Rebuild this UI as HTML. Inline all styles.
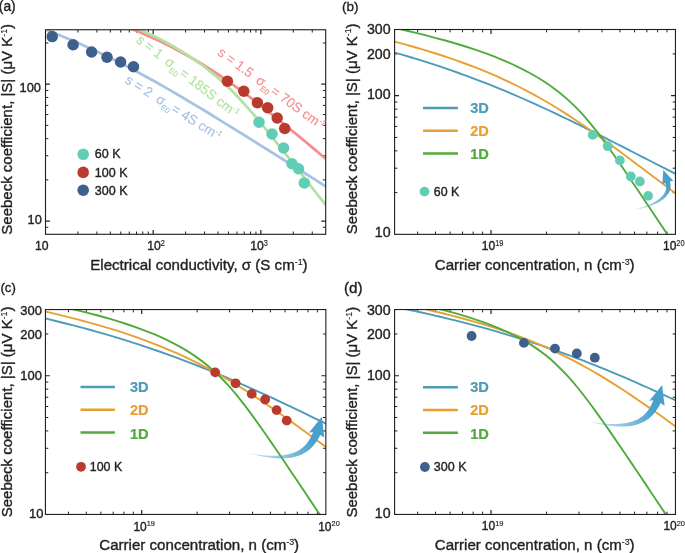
<!DOCTYPE html>
<html lang="en">
<head>
<meta charset="utf-8">
<title>Seebeck coefficient figure</title>
<style>
html,body{margin:0;padding:0;background:#fff;}
body{width:685px;height:553px;overflow:hidden;font-family:"Liberation Sans", Arial, Helvetica, sans-serif;}
svg{display:block;}
text{white-space:pre;}
</style>
</head>
<body>
<svg width="685" height="553" viewBox="0 0 685 553" font-family='"Liberation Sans", Arial, Helvetica, sans-serif'>
<rect width="685" height="553" fill="#fff"/>
<defs>
<clipPath id="clipa"><rect x="45.5" y="29.75" width="280.2" height="204.55"/></clipPath>
<clipPath id="clipb"><rect x="394.6" y="29.5" width="280.85" height="204.85"/></clipPath>
<clipPath id="clipc"><rect x="45.45" y="309.55" width="280.4" height="204.9"/></clipPath>
<clipPath id="clipd"><rect x="394.6" y="309.55" width="280.85" height="204.9"/></clipPath>
</defs>
<g stroke="#231f20" fill="none">
<path stroke-width="1.2" d="M153.18 234.3v-4.4M153.18 29.75v4.4M260.87 234.3v-4.4M260.87 29.75v4.4M45.5 221.04h4.4M325.7 221.04h-4.4M45.5 84.2h4.4M325.7 84.2h-4.4"/>
<path stroke-width="1.0" d="M77.92 234.3v-2.8M77.92 29.75v2.8M96.88 234.3v-2.8M96.88 29.75v2.8M110.33 234.3v-2.8M110.33 29.75v2.8M120.77 234.3v-2.8M120.77 29.75v2.8M129.29 234.3v-2.8M129.29 29.75v2.8M136.5 234.3v-2.8M136.5 29.75v2.8M142.75 234.3v-2.8M142.75 29.75v2.8M148.26 234.3v-2.8M148.26 29.75v2.8M185.6 234.3v-2.8M185.6 29.75v2.8M204.56 234.3v-2.8M204.56 29.75v2.8M218.02 234.3v-2.8M218.02 29.75v2.8M228.45 234.3v-2.8M228.45 29.75v2.8M236.98 234.3v-2.8M236.98 29.75v2.8M244.19 234.3v-2.8M244.19 29.75v2.8M250.43 234.3v-2.8M250.43 29.75v2.8M255.94 234.3v-2.8M255.94 29.75v2.8M293.28 234.3v-2.8M293.28 29.75v2.8M312.25 234.3v-2.8M312.25 29.75v2.8M45.5 227.3h2.8M325.7 227.3h-2.8M45.5 179.85h2.8M325.7 179.85h-2.8M45.5 155.75h2.8M325.7 155.75h-2.8M45.5 138.66h2.8M325.7 138.66h-2.8M45.5 125.39h2.8M325.7 125.39h-2.8M45.5 114.56h2.8M325.7 114.56h-2.8M45.5 105.4h2.8M325.7 105.4h-2.8M45.5 97.46h2.8M325.7 97.46h-2.8M45.5 90.46h2.8M325.7 90.46h-2.8M45.5 43.01h2.8M325.7 43.01h-2.8"/>
</g>
<g clip-path="url(#clipa)" fill="none">
<path d="M105.97 19.08C109.45 20.31 112.92 21.57 116.38 22.87C119.84 24.16 123.29 25.48 126.72 26.84C130.15 28.20 133.58 29.59 136.98 31.02C140.39 32.45 143.78 33.91 147.16 35.41C150.53 36.91 153.89 38.45 157.23 40.02C160.57 41.59 163.90 43.21 167.20 44.86C170.50 46.51 173.79 48.20 177.05 49.93C180.32 51.65 183.56 53.42 186.78 55.23C190.01 57.03 193.21 58.88 196.38 60.76C199.56 62.64 202.72 64.56 205.85 66.52C208.98 68.47 212.10 70.46 215.19 72.49C218.27 74.51 221.34 76.57 224.39 78.66C227.44 80.74 230.46 82.86 233.47 85.01C236.47 87.15 239.46 89.32 242.43 91.52C245.40 93.72 248.35 95.93 251.29 98.17C254.23 100.41 257.15 102.67 260.07 104.94C262.98 107.21 265.88 109.50 268.76 111.80C271.65 114.11 274.53 116.42 277.40 118.74C280.28 121.06 283.14 123.40 286.00 125.74C288.86 128.08 291.71 130.42 294.56 132.77C297.40 135.12 300.25 137.48 303.09 139.84C305.93 142.20 308.77 144.57 311.60 146.93C314.44 149.30 317.27 151.67 320.10 154.04C322.94 156.41 325.77 158.79 328.59 161.16C331.42 163.54 334.25 165.91 337.07 168.29" stroke="#f58e90" stroke-width="2.75"/>
<path d="M111.23 18.38C115.10 19.78 118.96 21.22 122.80 22.71C126.64 24.20 130.45 25.74 134.25 27.33C138.05 28.92 141.82 30.56 145.57 32.27C149.32 33.97 153.04 35.73 156.73 37.56C160.42 39.38 164.08 41.27 167.70 43.23C171.32 45.19 174.90 47.22 178.44 49.32C181.98 51.43 185.47 53.61 188.91 55.86C192.36 58.12 195.75 60.45 199.09 62.87C202.42 65.28 205.70 67.77 208.92 70.34C212.14 72.90 215.29 75.54 218.39 78.26C221.49 80.97 224.52 83.76 227.49 86.60C230.47 89.45 233.38 92.36 236.24 95.32C239.10 98.28 241.91 101.29 244.67 104.34C247.43 107.40 250.15 110.49 252.83 113.61C255.51 116.73 258.16 119.89 260.79 123.06C263.41 126.23 266.01 129.43 268.59 132.63C271.18 135.83 273.75 139.05 276.31 142.27C278.87 145.49 281.43 148.72 283.98 151.95C286.53 155.18 289.08 158.41 291.63 161.65C294.17 164.88 296.72 168.12 299.27 171.35C301.81 174.59 304.36 177.82 306.90 181.06C309.45 184.29 312.00 187.53 314.54 190.76C317.09 194.00 319.63 197.23 322.18 200.47C324.73 203.70 327.27 206.94 329.82 210.17C332.36 213.41 334.91 216.64 337.45 219.88" stroke="#b4e1a2" stroke-width="2.75"/>
<path d="M33.71 25.10C38.07 26.70 42.41 28.33 46.74 30.01C51.07 31.68 55.39 33.39 59.69 35.15C63.99 36.90 68.27 38.70 72.53 40.53C76.80 42.36 81.05 44.24 85.28 46.15C89.51 48.06 93.72 50.01 97.92 51.99C102.11 53.98 106.29 56.00 110.45 58.06C114.61 60.12 118.76 62.21 122.88 64.34C127.01 66.46 131.12 68.62 135.22 70.80C139.31 72.99 143.39 75.20 147.46 77.44C151.53 79.68 155.58 81.95 159.62 84.24C163.66 86.52 167.68 88.83 171.70 91.16C175.72 93.49 179.72 95.84 183.72 98.20C187.71 100.57 191.70 102.95 195.68 105.34C199.66 107.73 203.63 110.13 207.60 112.54C211.56 114.96 215.52 117.38 219.48 119.81C223.43 122.24 227.38 124.68 231.33 127.12C235.28 129.57 239.22 132.02 243.16 134.47C247.10 136.93 251.04 139.39 254.97 141.85C258.91 144.31 262.84 146.78 266.77 149.25C270.70 151.72 274.63 154.19 278.56 156.66C282.49 159.13 286.42 161.61 290.34 164.09C294.27 166.56 298.20 169.04 302.12 171.52C306.05 174.00 309.97 176.48 313.89 178.96C317.82 181.45 321.74 183.93 325.66 186.41C329.58 188.90 333.50 191.38 337.42 193.87" stroke="#a7c3e3" stroke-width="2.75"/>
</g>
<circle cx="52.2" cy="36.6" r="5.75" fill="#3f5f8c"/>
<circle cx="73.1" cy="44.7" r="5.75" fill="#3f5f8c"/>
<circle cx="91.6" cy="52" r="5.75" fill="#3f5f8c"/>
<circle cx="107" cy="57.3" r="5.75" fill="#3f5f8c"/>
<circle cx="120.6" cy="62" r="5.75" fill="#3f5f8c"/>
<circle cx="133.5" cy="66.7" r="5.75" fill="#3f5f8c"/>
<circle cx="227.4" cy="81.2" r="5.75" fill="#b83b2e"/>
<circle cx="243.8" cy="91.3" r="5.75" fill="#b83b2e"/>
<circle cx="257.4" cy="102.7" r="5.75" fill="#b83b2e"/>
<circle cx="267.7" cy="107.7" r="5.75" fill="#b83b2e"/>
<circle cx="277.2" cy="118" r="5.75" fill="#b83b2e"/>
<circle cx="284.7" cy="128.5" r="5.75" fill="#b83b2e"/>
<circle cx="259" cy="122.3" r="5.75" fill="#62cdb5"/>
<circle cx="272" cy="134" r="5.75" fill="#62cdb5"/>
<circle cx="283.6" cy="148" r="5.75" fill="#62cdb5"/>
<circle cx="292" cy="163.8" r="5.75" fill="#62cdb5"/>
<circle cx="298.5" cy="168.8" r="5.75" fill="#62cdb5"/>
<circle cx="304.3" cy="182.9" r="5.75" fill="#62cdb5"/>
<rect x="45.5" y="29.75" width="280.2" height="204.55" stroke="#231f20" fill="none" stroke-width="1.12"/>
<text transform="translate(40.9 91.6) scale(1 1.05)" font-size="12.8" text-anchor="end" fill="#231f20" stroke="#231f20" stroke-width="0.38">100</text>
<text transform="translate(41.8 224.3) scale(1 1.05)" font-size="12.8" text-anchor="end" fill="#231f20" stroke="#231f20" stroke-width="0.38">10</text>
<text transform="translate(41.7 250.2) scale(1 1.1)" font-size="12.2" text-anchor="middle" fill="#231f20" stroke="#231f20" stroke-width="0.38">10</text>
<text transform="translate(147.3 250.2) scale(1 1.1)" font-size="12.2" fill="#231f20" stroke="#231f20" stroke-width="0.38">10<tspan font-size="7.4" dy="-4.0" stroke-width="0.15">2</tspan></text>
<text transform="translate(250.3 250.2) scale(1 1.1)" font-size="12.2" fill="#231f20" stroke="#231f20" stroke-width="0.38">10<tspan font-size="7.4" dy="-4.0" stroke-width="0.15">3</tspan></text>
<text transform="translate(198.9 270.2)" font-size="15.1" text-anchor="middle" fill="#231f20" stroke="#231f20" stroke-width="0.38">Electrical conductivity, σ (S cm<tspan font-size="8.8" dy="-5.7" stroke-width="0.15">-1</tspan><tspan dy="5.7">)</tspan></text>
<text transform="translate(12.2 129.3) rotate(-90)" font-size="15" text-anchor="middle" fill="#231f20" stroke="#231f20" stroke-width="0.38">Seebeck coefficient, |S| (μV K<tspan font-size="8.8" dy="-5.7" stroke-width="0.15">-1</tspan><tspan dy="5.7">)</tspan></text>
<text transform="translate(-1.2 10.8)" font-size="13.8" fill="#231f20" stroke="#231f20" stroke-width="0.38">(a)</text>
<circle cx="83.2" cy="154.3" r="5.8" fill="#62cdb5"/>
<text transform="translate(94.8 158.3)" font-size="12.5" fill="#231f20" stroke="#231f20" stroke-width="0.38">60 K</text>
<circle cx="83.2" cy="172.4" r="5.8" fill="#b83b2e"/>
<text transform="translate(94.8 176.5)" font-size="12.5" fill="#231f20" stroke="#231f20" stroke-width="0.38">100 K</text>
<circle cx="83.2" cy="190.2" r="5.8" fill="#3f5f8c"/>
<text transform="translate(94.8 194.5)" font-size="12.5" fill="#231f20" stroke="#231f20" stroke-width="0.38">300 K</text>
<text transform="translate(124.2 82.3) rotate(32) scale(1 1.03)" font-size="13.3" fill="#a7c3e3" stroke="#a7c3e3" stroke-width="0.15">s = 2 <tspan dx="3.3">σ</tspan><tspan font-size="7.6" dy="3.4">E0</tspan><tspan dx="-2.7" dy="-3.4"> = 4S cm</tspan><tspan font-size="7.4" dy="-4.8" stroke-width="0.15">-1</tspan></text>
<text transform="translate(135.4 41.4) rotate(37.8) scale(1 1.03)" font-size="13.3" fill="#b4e1a2" stroke="#b4e1a2" stroke-width="0.15">s = 1 <tspan dx="3.3">σ</tspan><tspan font-size="7.6" dy="3.4">E0</tspan><tspan dx="-2.7" dy="-3.4"> = 185S cm</tspan><tspan font-size="7.4" dy="-4.8" stroke-width="0.15">-1</tspan></text>
<text transform="translate(216.7 54.3) rotate(36.1) scale(1 1.03)" font-size="13.3" fill="#f58e90" stroke="#f58e90" stroke-width="0.15">s = 1.5 <tspan dx="3.3">σ</tspan><tspan font-size="7.6" dy="3.4">E0</tspan><tspan dx="-2.7" dy="-3.4"> = 70S cm</tspan><tspan font-size="7.4" dy="-4.8" stroke-width="0.15">-1</tspan></text>
<g stroke="#231f20" fill="none">
<path stroke-width="1.2" d="M491.03 234.35v-4.4M491.03 29.5v4.4M394.6 95.67h4.4M675.45 95.67h-4.4"/>
<path stroke-width="1.0" d="M417.64 234.35v-2.8M417.64 29.5v2.8M435.51 234.35v-2.8M435.51 29.5v2.8M450.12 234.35v-2.8M450.12 29.5v2.8M462.46 234.35v-2.8M462.46 29.5v2.8M473.16 234.35v-2.8M473.16 29.5v2.8M482.59 234.35v-2.8M482.59 29.5v2.8M546.55 234.35v-2.8M546.55 29.5v2.8M579.02 234.35v-2.8M579.02 29.5v2.8M602.06 234.35v-2.8M602.06 29.5v2.8M619.93 234.35v-2.8M619.93 29.5v2.8M634.54 234.35v-2.8M634.54 29.5v2.8M646.88 234.35v-2.8M646.88 29.5v2.8M657.58 234.35v-2.8M657.58 29.5v2.8M667.01 234.35v-2.8M667.01 29.5v2.8M394.6 192.6h2.8M675.45 192.6h-2.8M394.6 168.18h2.8M675.45 168.18h-2.8M394.6 150.86h2.8M675.45 150.86h-2.8M394.6 137.42h2.8M675.45 137.42h-2.8M394.6 126.43h2.8M675.45 126.43h-2.8M394.6 117.15h2.8M675.45 117.15h-2.8M394.6 109.11h2.8M675.45 109.11h-2.8M394.6 102.01h2.8M675.45 102.01h-2.8M394.6 53.92h2.8M675.45 53.92h-2.8"/>
</g>
<g clip-path="url(#clipb)" fill="none">
<path d="M388.51 50.78C392.69 51.95 396.86 53.14 401.03 54.35C405.19 55.56 409.35 56.80 413.50 58.07C417.65 59.33 421.79 60.62 425.93 61.94C430.06 63.26 434.19 64.60 438.31 65.97C442.43 67.34 446.53 68.74 450.63 70.16C454.73 71.58 458.82 73.04 462.90 74.52C466.98 76.00 471.05 77.50 475.11 79.04C479.17 80.57 483.21 82.14 487.25 83.73C491.29 85.32 495.32 86.93 499.33 88.58C503.35 90.22 507.35 91.89 511.35 93.59C515.34 95.28 519.32 97.01 523.30 98.75C527.27 100.50 531.23 102.27 535.18 104.06C539.14 105.85 543.08 107.66 547.01 109.49C550.95 111.33 554.87 113.18 558.79 115.05C562.70 116.92 566.61 118.81 570.51 120.71C574.41 122.61 578.30 124.52 582.19 126.45C586.08 128.38 589.96 130.31 593.84 132.26C597.72 134.20 601.60 136.16 605.47 138.12C609.34 140.08 613.21 142.04 617.08 144.01C620.94 145.98 624.81 147.95 628.67 149.92C632.54 151.90 636.40 153.87 640.27 155.84C644.13 157.82 647.99 159.79 651.86 161.77C655.72 163.74 659.59 165.71 663.46 167.68C667.32 169.65 671.19 171.62 675.06 173.59C678.92 175.55 682.79 177.52 686.66 179.48" stroke="#4c9bb8" stroke-width="1.9"/>
<path d="M382.77 38.60C387.29 39.73 391.79 40.89 396.29 42.08C400.79 43.27 405.28 44.49 409.76 45.75C414.24 47.01 418.71 48.30 423.17 49.63C427.63 50.97 432.08 52.34 436.51 53.75C440.95 55.16 445.37 56.61 449.77 58.11C454.18 59.61 458.57 61.16 462.94 62.75C467.31 64.35 471.66 65.99 476.00 67.69C480.33 69.39 484.64 71.14 488.93 72.95C493.22 74.76 497.48 76.62 501.72 78.54C505.95 80.47 510.16 82.45 514.35 84.49C518.53 86.54 522.68 88.64 526.80 90.81C530.92 92.97 535.00 95.19 539.06 97.48C543.11 99.76 547.14 102.10 551.13 104.50C555.12 106.89 559.07 109.34 563.00 111.84C566.93 114.33 570.83 116.88 574.70 119.46C578.57 122.04 582.41 124.67 586.23 127.32C590.05 129.98 593.85 132.67 597.63 135.38C601.42 138.09 605.18 140.82 608.94 143.57C612.69 146.32 616.44 149.08 620.17 151.85C623.91 154.63 627.64 157.41 631.37 160.19C635.10 162.98 638.82 165.77 642.54 168.56C646.26 171.36 649.99 174.15 653.71 176.95C657.43 179.74 661.15 182.54 664.86 185.33C668.58 188.13 672.30 190.93 676.02 193.72C679.74 196.52 683.46 199.32 687.18 202.11" stroke="#e8a033" stroke-width="1.9"/>
<path d="M385.13 25.93C390.10 26.98 395.07 28.06 400.03 29.18C405.00 30.29 409.95 31.44 414.90 32.63C419.84 33.82 424.78 35.04 429.70 36.31C434.63 37.58 439.54 38.90 444.44 40.26C449.34 41.63 454.22 43.05 459.09 44.53C463.96 46.01 468.80 47.55 473.63 49.16C478.45 50.77 483.25 52.46 488.02 54.23C492.79 56.00 497.52 57.86 502.21 59.82C506.91 61.78 511.56 63.84 516.15 66.03C520.75 68.21 525.28 70.51 529.74 72.96C534.20 75.41 538.58 77.99 542.87 80.74C547.15 83.48 551.33 86.38 555.39 89.45C559.45 92.51 563.39 95.74 567.19 99.12C570.98 102.50 574.65 106.03 578.18 109.70C581.71 113.36 585.10 117.15 588.38 121.03C591.67 124.92 594.84 128.90 597.93 132.93C601.02 136.97 604.04 141.07 607.00 145.20C609.97 149.33 612.88 153.50 615.78 157.68C618.67 161.87 621.54 166.07 624.40 170.27C627.25 174.48 630.10 178.70 632.94 182.92C635.78 187.14 638.61 191.36 641.45 195.58C644.28 199.81 647.10 204.04 649.93 208.27C652.76 212.49 655.58 216.72 658.40 220.96C661.22 225.19 664.05 229.42 666.87 233.65C669.69 237.88 672.51 242.12 675.32 246.35" stroke="#51ab3c" stroke-width="1.9"/>
</g>
<circle cx="592.7" cy="134.9" r="4.9" fill="#62cdb5"/>
<circle cx="607.7" cy="146.2" r="4.9" fill="#62cdb5"/>
<circle cx="619.9" cy="160.4" r="4.9" fill="#62cdb5"/>
<circle cx="630.8" cy="176.5" r="4.9" fill="#62cdb5"/>
<circle cx="639.9" cy="181.5" r="4.9" fill="#62cdb5"/>
<circle cx="648.1" cy="195.9" r="4.9" fill="#62cdb5"/>
<linearGradient id="agb" gradientUnits="userSpaceOnUse" x1="634.5" y1="209.5" x2="667.8" y2="182.55"><stop offset="0" stop-color="#479fcb" stop-opacity="0.3"/><stop offset="0.3" stop-color="#479fcb" stop-opacity="0.5"/><stop offset="0.6" stop-color="#479fcb" stop-opacity="0.72"/><stop offset="0.9" stop-color="#479fcb" stop-opacity="0.97"/><stop offset="1" stop-color="#479fcb" stop-opacity="1"/></linearGradient>
<path d="M634.5 209.4 636.6 208.9 638.8 208.4 640.9 207.8 643.0 207.2 645.0 206.5 647.0 205.7 648.9 204.9 650.8 204.1 652.5 203.2 654.2 202.2 655.9 201.3 657.4 200.2 658.8 199.2 660.1 198.1 661.3 197.0 662.4 195.9 663.4 194.7 664.2 193.6 664.9 192.4 665.4 191.3 665.8 190.1 666.1 189.0 666.3 187.8 666.2 186.7 666.1 185.5 665.8 184.3 665.3 183.1 662.3 184.4 663.3 170.0 673.3 180.7 669.9 181.5 670.3 183.2 670.5 185.0 670.6 186.7 670.4 188.3 670.0 189.9 669.5 191.4 668.8 192.9 667.9 194.3 666.9 195.6 665.8 196.9 664.6 198.1 663.3 199.2 661.8 200.3 660.3 201.3 658.7 202.3 657.0 203.2 655.2 204.0 653.3 204.8 651.4 205.6 649.4 206.3 647.4 206.9 645.3 207.5 643.2 208.0 641.1 208.5 638.9 208.9 636.7 209.3 634.5 209.6Z" fill="url(#agb)"/>
<rect x="394.6" y="29.5" width="280.85" height="204.85" stroke="#231f20" fill="none" stroke-width="1.12"/>
<text transform="translate(390.6 34.3) scale(1 0.98)" font-size="14.2" text-anchor="end" fill="#231f20" stroke="#231f20" stroke-width="0.38">300</text>
<text transform="translate(390.6 58.8) scale(1 0.98)" font-size="14.2" text-anchor="end" fill="#231f20" stroke="#231f20" stroke-width="0.38">200</text>
<text transform="translate(390.6 99.2) scale(1 0.98)" font-size="14.2" text-anchor="end" fill="#231f20" stroke="#231f20" stroke-width="0.38">100</text>
<text transform="translate(390.6 237.2) scale(1 0.98)" font-size="14.2" text-anchor="end" fill="#231f20" stroke="#231f20" stroke-width="0.38">10</text>
<text transform="translate(481.8 250.2) scale(1 1.1)" font-size="12.0" fill="#231f20" stroke="#231f20" stroke-width="0.38">10<tspan font-size="7.4" dy="-4.0" stroke-width="0.15">19</tspan></text>
<text transform="translate(663 250.2) scale(1 1.1)" font-size="12.0" fill="#231f20" stroke="#231f20" stroke-width="0.38">10<tspan font-size="7.4" dy="-4.0" stroke-width="0.15">20</tspan></text>
<text transform="translate(534.7 270.2)" font-size="15.1" text-anchor="middle" fill="#231f20" stroke="#231f20" stroke-width="0.38">Carrier concentration, n (cm<tspan font-size="8.8" dy="-5.7" stroke-width="0.15">-3</tspan><tspan dy="5.7">)</tspan></text>
<text transform="translate(357.1 128.8) rotate(-90)" font-size="15" text-anchor="middle" fill="#231f20" stroke="#231f20" stroke-width="0.38">Seebeck coefficient, |S| (μV K<tspan font-size="8.8" dy="-5.7" stroke-width="0.15">-1</tspan><tspan dy="5.7">)</tspan></text>
<text transform="translate(342 10.5)" font-size="13.5" fill="#231f20" stroke="#231f20" stroke-width="0.38">(b)</text>
<path d="M423 108.1H457.9" stroke="#4c9bb8" stroke-width="2.5" fill="none"/>
<text transform="translate(470.2 112.9) scale(1 1.06)" font-size="14.6" fill="#4c9bb8" stroke="#4c9bb8" stroke-width="0.22799999999999998" font-weight="bold">3D</text>
<path d="M423 130.8H457.9" stroke="#e8a033" stroke-width="2.5" fill="none"/>
<text transform="translate(470.2 135.6) scale(1 1.06)" font-size="14.6" fill="#e8a033" stroke="#e8a033" stroke-width="0.22799999999999998" font-weight="bold">2D</text>
<path d="M423 153.6H457.9" stroke="#51ab3c" stroke-width="2.5" fill="none"/>
<text transform="translate(470.2 159) scale(1 1.06)" font-size="14.6" fill="#51ab3c" stroke="#51ab3c" stroke-width="0.22799999999999998" font-weight="bold">1D</text>
<circle cx="424.5" cy="191.6" r="4.9" fill="#62cdb5"/>
<text transform="translate(433.8 196)" font-size="12.4" fill="#231f20" stroke="#231f20" stroke-width="0.38">60 K</text>
<g stroke="#231f20" fill="none">
<path stroke-width="1.2" d="M141.73 514.45v-4.4M141.73 309.55v4.4M45.45 375.73h4.4M325.85 375.73h-4.4"/>
<path stroke-width="1.0" d="M68.45 514.45v-2.8M68.45 309.55v2.8M86.3 514.45v-2.8M86.3 309.55v2.8M100.88 514.45v-2.8M100.88 309.55v2.8M113.2 514.45v-2.8M113.2 309.55v2.8M123.88 514.45v-2.8M123.88 309.55v2.8M133.3 514.45v-2.8M133.3 309.55v2.8M197.15 514.45v-2.8M197.15 309.55v2.8M229.57 514.45v-2.8M229.57 309.55v2.8M252.58 514.45v-2.8M252.58 309.55v2.8M270.42 514.45v-2.8M270.42 309.55v2.8M285 514.45v-2.8M285 309.55v2.8M297.33 514.45v-2.8M297.33 309.55v2.8M308.01 514.45v-2.8M308.01 309.55v2.8M317.42 514.45v-2.8M317.42 309.55v2.8M45.45 472.69h2.8M325.85 472.69h-2.8M45.45 448.27h2.8M325.85 448.27h-2.8M45.45 430.93h2.8M325.85 430.93h-2.8M45.45 417.49h2.8M325.85 417.49h-2.8M45.45 406.51h2.8M325.85 406.51h-2.8M45.45 397.22h2.8M325.85 397.22h-2.8M45.45 389.18h2.8M325.85 389.18h-2.8M45.45 382.08h2.8M325.85 382.08h-2.8M45.45 333.98h2.8M325.85 333.98h-2.8"/>
</g>
<g clip-path="url(#clipc)" fill="none">
<path d="M33.66 315.74C37.86 316.70 42.05 317.68 46.24 318.67C50.44 319.67 54.62 320.69 58.80 321.73C62.99 322.76 67.16 323.82 71.33 324.90C75.50 325.98 79.67 327.08 83.83 328.20C87.99 329.33 92.14 330.47 96.29 331.64C100.43 332.81 104.57 334.00 108.71 335.21C112.84 336.43 116.97 337.67 121.09 338.93C125.20 340.19 129.32 341.48 133.42 342.80C137.52 344.11 141.62 345.45 145.70 346.81C149.79 348.18 153.87 349.57 157.94 350.98C162.01 352.40 166.07 353.84 170.12 355.30C174.17 356.77 178.21 358.26 182.24 359.78C186.28 361.30 190.30 362.84 194.31 364.40C198.33 365.97 202.33 367.56 206.33 369.17C210.32 370.78 214.31 372.42 218.28 374.08C222.26 375.74 226.23 377.41 230.19 379.11C234.14 380.81 238.10 382.53 242.04 384.27C245.98 386.01 249.91 387.76 253.84 389.53C257.77 391.30 261.69 393.09 265.60 394.89C269.52 396.69 273.42 398.51 277.33 400.33C281.23 402.16 285.13 404.00 289.02 405.84C292.91 407.69 296.80 409.55 300.68 411.41C304.56 413.28 308.44 415.15 312.32 417.03C316.20 418.91 320.07 420.79 323.94 422.68C327.81 424.57 331.68 426.47 335.55 428.37" stroke="#4c9bb8" stroke-width="1.9"/>
<path d="M37.10 309.72C41.49 310.68 45.87 311.68 50.25 312.69C54.63 313.71 59.00 314.75 63.36 315.83C67.72 316.90 72.08 318.00 76.43 319.13C80.78 320.26 85.12 321.42 89.45 322.61C93.78 323.81 98.10 325.03 102.41 326.30C106.72 327.57 111.02 328.87 115.31 330.21C119.60 331.56 123.87 332.94 128.13 334.37C132.39 335.80 136.64 337.28 140.86 338.80C145.09 340.33 149.30 341.90 153.49 343.52C157.68 345.14 161.85 346.82 166.00 348.55C170.14 350.28 174.27 352.06 178.37 353.90C182.47 355.74 186.54 357.64 190.59 359.59C194.63 361.54 198.65 363.55 202.64 365.62C206.63 367.68 210.59 369.80 214.53 371.98C218.46 374.15 222.36 376.38 226.24 378.65C230.11 380.92 233.96 383.25 237.78 385.61C241.60 387.97 245.40 390.38 249.17 392.82C252.94 395.26 256.69 397.74 260.42 400.24C264.15 402.74 267.86 405.28 271.56 407.83C275.26 410.39 278.94 412.96 282.61 415.55C286.28 418.15 289.93 420.76 293.58 423.38C297.23 426.00 300.87 428.64 304.50 431.28C308.14 433.92 311.77 436.57 315.39 439.23C319.01 441.89 322.63 444.55 326.24 447.22C329.86 449.89 333.47 452.57 337.07 455.25" stroke="#e8a033" stroke-width="1.9"/>
<path d="M35.64 301.18C40.69 302.19 45.74 303.23 50.79 304.30C55.83 305.37 60.86 306.47 65.89 307.62C70.92 308.76 75.94 309.95 80.94 311.18C85.95 312.41 90.94 313.68 95.93 315.01C100.91 316.35 105.87 317.73 110.82 319.19C115.76 320.64 120.69 322.16 125.59 323.76C130.49 325.36 135.37 327.04 140.21 328.82C145.05 330.60 149.85 332.48 154.60 334.47C159.35 336.47 164.06 338.59 168.69 340.86C173.32 343.12 177.88 345.53 182.35 348.10C186.81 350.68 191.18 353.42 195.43 356.35C199.67 359.28 203.79 362.38 207.77 365.67C211.74 368.95 215.57 372.41 219.26 376.01C222.94 379.62 226.49 383.37 229.91 387.22C233.33 391.08 236.63 395.04 239.84 399.08C243.06 403.11 246.19 407.20 249.26 411.34C252.34 415.48 255.35 419.66 258.34 423.86C261.33 428.07 264.28 432.29 267.22 436.53C270.15 440.77 273.07 445.02 275.97 449.28C278.88 453.54 281.77 457.81 284.65 462.08C287.54 466.35 290.41 470.63 293.29 474.91C296.16 479.19 299.03 483.48 301.89 487.76C304.76 492.05 307.62 496.34 310.48 500.63C313.34 504.92 316.20 509.21 319.06 513.50C321.91 517.79 324.77 522.08 327.62 526.38" stroke="#51ab3c" stroke-width="1.9"/>
</g>
<circle cx="215.2" cy="372.4" r="4.9" fill="#b83b2e"/>
<circle cx="235.6" cy="383.3" r="4.9" fill="#b83b2e"/>
<circle cx="251.7" cy="393.9" r="4.9" fill="#b83b2e"/>
<circle cx="265.1" cy="399.5" r="4.9" fill="#b83b2e"/>
<circle cx="276.6" cy="410.1" r="4.9" fill="#b83b2e"/>
<circle cx="286.7" cy="420.6" r="4.9" fill="#b83b2e"/>
<linearGradient id="agc" gradientUnits="userSpaceOnUse" x1="250.4" y1="453.7" x2="316.6" y2="435.15"><stop offset="0" stop-color="#479fcb" stop-opacity="0.3"/><stop offset="0.3" stop-color="#479fcb" stop-opacity="0.5"/><stop offset="0.6" stop-color="#479fcb" stop-opacity="0.72"/><stop offset="0.9" stop-color="#479fcb" stop-opacity="0.97"/><stop offset="1" stop-color="#479fcb" stop-opacity="1"/></linearGradient>
<path d="M250.4 453.6 254.5 454.3 258.5 454.8 262.3 455.2 265.9 455.5 269.4 455.7 272.8 455.8 276.0 455.8 279.1 455.6 282.0 455.4 284.8 455.0 287.4 454.5 289.9 453.9 292.2 453.2 294.5 452.4 296.6 451.5 298.5 450.5 300.3 449.3 302.1 448.1 303.6 446.8 305.1 445.3 306.5 443.8 307.8 442.1 309.0 440.3 310.1 438.4 311.2 436.4 312.1 434.2 313.0 431.9 308.9 432.7 321.8 416.8 324.3 437.6 320.2 434.9 319.0 437.5 317.6 439.9 316.1 442.1 314.5 444.2 312.8 446.2 311.1 448.0 309.2 449.7 307.2 451.2 305.1 452.6 303.0 453.8 300.7 454.9 298.3 455.8 295.9 456.6 293.3 457.2 290.7 457.7 288.0 458.1 285.1 458.3 282.2 458.4 279.1 458.4 275.9 458.2 272.7 457.9 269.3 457.5 265.8 457.0 262.1 456.4 258.3 455.6 254.4 454.8 250.4 453.8Z" fill="url(#agc)"/>
<rect x="45.45" y="309.55" width="280.4" height="204.9" stroke="#231f20" fill="none" stroke-width="1.12"/>
<text transform="translate(42 314.6) scale(1 1.05)" font-size="13.0" text-anchor="end" fill="#231f20" stroke="#231f20" stroke-width="0.38">300</text>
<text transform="translate(42 339.3) scale(1 1.05)" font-size="13.0" text-anchor="end" fill="#231f20" stroke="#231f20" stroke-width="0.38">200</text>
<text transform="translate(42 380.1) scale(1 1.05)" font-size="13.0" text-anchor="end" fill="#231f20" stroke="#231f20" stroke-width="0.38">100</text>
<text transform="translate(43.4 518) scale(1 1.05)" font-size="13.0" text-anchor="end" fill="#231f20" stroke="#231f20" stroke-width="0.38">10</text>
<text transform="translate(133.4 530.5) scale(1 1.06)" font-size="12.0" fill="#231f20" stroke="#231f20" stroke-width="0.38">10<tspan font-size="7.4" dy="-4.0" stroke-width="0.15">19</tspan></text>
<text transform="translate(318.2 530.5) scale(1 1.06)" font-size="12.0" fill="#231f20" stroke="#231f20" stroke-width="0.38">10<tspan font-size="7.4" dy="-4.0" stroke-width="0.15">20</tspan></text>
<text transform="translate(199.2 550.4)" font-size="15.1" text-anchor="middle" fill="#231f20" stroke="#231f20" stroke-width="0.38">Carrier concentration, n (cm<tspan font-size="8.8" dy="-5.7" stroke-width="0.15">-3</tspan><tspan dy="5.7">)</tspan></text>
<text transform="translate(12.4 411.9) rotate(-90)" font-size="15" text-anchor="middle" fill="#231f20" stroke="#231f20" stroke-width="0.38">Seebeck coefficient, |S| (μV K<tspan font-size="8.8" dy="-5.7" stroke-width="0.15">-1</tspan><tspan dy="5.7">)</tspan></text>
<text transform="translate(0.4 292.3)" font-size="13.2" fill="#231f20" stroke="#231f20" stroke-width="0.38">(c)</text>
<path d="M80.5 387.1H114.9" stroke="#4c9bb8" stroke-width="2.5" fill="none"/>
<text transform="translate(130 391.9) scale(1 1.06)" font-size="14.6" fill="#4c9bb8" stroke="#4c9bb8" stroke-width="0.22799999999999998" font-weight="bold">3D</text>
<path d="M80.5 409.8H114.9" stroke="#e8a033" stroke-width="2.5" fill="none"/>
<text transform="translate(130 414.7) scale(1 1.06)" font-size="14.6" fill="#e8a033" stroke="#e8a033" stroke-width="0.22799999999999998" font-weight="bold">2D</text>
<path d="M80.5 432.5H114.9" stroke="#51ab3c" stroke-width="2.5" fill="none"/>
<text transform="translate(130 439.2) scale(1 1.06)" font-size="14.6" fill="#51ab3c" stroke="#51ab3c" stroke-width="0.22799999999999998" font-weight="bold">1D</text>
<circle cx="81" cy="466.8" r="4.9" fill="#b83b2e"/>
<text transform="translate(89.8 471.2)" font-size="12.4" fill="#231f20" stroke="#231f20" stroke-width="0.38">100 K</text>
<g stroke="#231f20" fill="none">
<path stroke-width="1.2" d="M491.03 514.45v-4.4M491.03 309.55v4.4M394.6 375.73h4.4M675.45 375.73h-4.4"/>
<path stroke-width="1.0" d="M417.64 514.45v-2.8M417.64 309.55v2.8M435.51 514.45v-2.8M435.51 309.55v2.8M450.12 514.45v-2.8M450.12 309.55v2.8M462.46 514.45v-2.8M462.46 309.55v2.8M473.16 514.45v-2.8M473.16 309.55v2.8M482.59 514.45v-2.8M482.59 309.55v2.8M546.55 514.45v-2.8M546.55 309.55v2.8M579.02 514.45v-2.8M579.02 309.55v2.8M602.06 514.45v-2.8M602.06 309.55v2.8M619.93 514.45v-2.8M619.93 309.55v2.8M634.54 514.45v-2.8M634.54 309.55v2.8M646.88 514.45v-2.8M646.88 309.55v2.8M657.58 514.45v-2.8M657.58 309.55v2.8M667.01 514.45v-2.8M667.01 309.55v2.8M394.6 472.69h2.8M675.45 472.69h-2.8M394.6 448.27h2.8M675.45 448.27h-2.8M394.6 430.93h2.8M675.45 430.93h-2.8M394.6 417.49h2.8M675.45 417.49h-2.8M394.6 406.51h2.8M675.45 406.51h-2.8M394.6 397.22h2.8M675.45 397.22h-2.8M394.6 389.18h2.8M675.45 389.18h-2.8M394.6 382.08h2.8M675.45 382.08h-2.8M394.6 333.98h2.8M675.45 333.98h-2.8"/>
</g>
<g clip-path="url(#clipd)" fill="none">
<path d="M383.84 304.67C388.04 305.49 392.24 306.33 396.43 307.19C400.62 308.05 404.81 308.92 409.00 309.81C413.19 310.70 417.37 311.61 421.55 312.54C425.73 313.46 429.90 314.41 434.07 315.37C438.24 316.33 442.41 317.32 446.57 318.32C450.73 319.33 454.88 320.35 459.03 321.40C463.18 322.44 467.33 323.51 471.47 324.60C475.61 325.69 479.74 326.80 483.87 327.94C487.99 329.07 492.11 330.23 496.23 331.41C500.34 332.60 504.45 333.80 508.55 335.04C512.65 336.27 516.74 337.53 520.82 338.81C524.90 340.09 528.98 341.40 533.05 342.73C537.11 344.07 541.17 345.43 545.22 346.81C549.27 348.19 553.31 349.60 557.34 351.04C561.38 352.47 565.40 353.94 569.41 355.42C573.43 356.91 577.43 358.41 581.43 359.95C585.43 361.48 589.41 363.04 593.39 364.62C597.37 366.20 601.34 367.80 605.30 369.42C609.26 371.04 613.21 372.69 617.15 374.35C621.10 376.01 625.03 377.70 628.96 379.40C632.89 381.10 636.81 382.81 640.72 384.55C644.64 386.28 648.54 388.03 652.44 389.79C656.35 391.55 660.24 393.33 664.13 395.11C668.02 396.90 671.90 398.70 675.78 400.51C679.66 402.32 683.53 404.14 687.40 405.96" stroke="#4c9bb8" stroke-width="1.9"/>
<path d="M384.68 300.66C389.06 301.51 393.43 302.37 397.79 303.26C402.15 304.15 406.51 305.06 410.87 305.99C415.23 306.92 419.58 307.88 423.92 308.86C428.26 309.84 432.60 310.85 436.93 311.89C441.27 312.93 445.59 313.99 449.91 315.09C454.22 316.19 458.53 317.32 462.83 318.49C467.13 319.66 471.42 320.86 475.69 322.10C479.97 323.35 484.23 324.63 488.49 325.95C492.74 327.28 496.98 328.65 501.20 330.07C505.42 331.49 509.63 332.95 513.82 334.47C518.00 335.98 522.17 337.55 526.32 339.18C530.47 340.80 534.59 342.48 538.70 344.21C542.80 345.95 546.88 347.74 550.93 349.59C554.98 351.44 559.01 353.34 563.00 355.31C567.00 357.27 570.97 359.29 574.91 361.36C578.85 363.44 582.77 365.57 586.65 367.75C590.54 369.92 594.39 372.15 598.22 374.43C602.05 376.70 605.86 379.01 609.64 381.37C613.42 383.72 617.18 386.12 620.91 388.54C624.65 390.97 628.37 393.42 632.06 395.90C635.76 398.38 639.44 400.89 643.11 403.42C646.78 405.94 650.44 408.49 654.08 411.05C657.72 413.61 661.36 416.19 664.98 418.78C668.60 421.37 672.22 423.97 675.83 426.58C679.44 429.19 683.04 431.81 686.64 434.43" stroke="#e8a033" stroke-width="1.9"/>
<path d="M389.96 298.06C394.96 299.04 399.95 300.05 404.93 301.09C409.91 302.14 414.89 303.22 419.85 304.34C424.82 305.47 429.77 306.63 434.71 307.85C439.66 309.07 444.59 310.34 449.50 311.67C454.41 313.01 459.31 314.40 464.18 315.88C469.05 317.35 473.90 318.91 478.72 320.56C483.53 322.21 488.31 323.95 493.05 325.82C497.79 327.69 502.47 329.67 507.10 331.81C511.72 333.94 516.27 336.23 520.73 338.68C525.19 341.14 529.55 343.77 533.79 346.59C538.03 349.41 542.14 352.42 546.11 355.61C550.07 358.80 553.89 362.17 557.57 365.69C561.25 369.21 564.78 372.88 568.19 376.66C571.60 380.43 574.90 384.32 578.11 388.27C581.32 392.22 584.44 396.24 587.51 400.30C590.58 404.36 593.59 408.46 596.57 412.59C599.55 416.72 602.49 420.88 605.41 425.04C608.33 429.21 611.23 433.40 614.12 437.59C617.00 441.79 619.87 445.99 622.73 450.20C625.59 454.41 628.45 458.63 631.29 462.85C634.14 467.07 636.98 471.29 639.82 475.52C642.65 479.75 645.48 483.98 648.31 488.21C651.14 492.44 653.97 496.67 656.80 500.91C659.62 505.14 662.45 509.37 665.27 513.61C668.09 517.85 670.92 522.08 673.74 526.32" stroke="#51ab3c" stroke-width="1.9"/>
</g>
<circle cx="471.6" cy="336" r="4.9" fill="#3f5f8c"/>
<circle cx="523.9" cy="342.9" r="4.9" fill="#3f5f8c"/>
<circle cx="555" cy="348.6" r="4.9" fill="#3f5f8c"/>
<circle cx="576.8" cy="353.5" r="4.9" fill="#3f5f8c"/>
<circle cx="594.8" cy="357.7" r="4.9" fill="#3f5f8c"/>
<linearGradient id="agd" gradientUnits="userSpaceOnUse" x1="590.7" y1="421.9" x2="656.9" y2="403.35"><stop offset="0" stop-color="#479fcb" stop-opacity="0.3"/><stop offset="0.3" stop-color="#479fcb" stop-opacity="0.5"/><stop offset="0.6" stop-color="#479fcb" stop-opacity="0.72"/><stop offset="0.9" stop-color="#479fcb" stop-opacity="0.97"/><stop offset="1" stop-color="#479fcb" stop-opacity="1"/></linearGradient>
<path d="M590.7 421.8 594.8 422.5 598.8 423.0 602.6 423.4 606.2 423.7 609.7 423.9 613.1 424.0 616.3 424.0 619.4 423.8 622.3 423.6 625.1 423.2 627.7 422.7 630.2 422.1 632.5 421.4 634.8 420.6 636.9 419.7 638.8 418.7 640.6 417.5 642.4 416.3 643.9 415.0 645.4 413.5 646.8 412.0 648.1 410.3 649.3 408.5 650.4 406.6 651.5 404.6 652.4 402.4 653.3 400.1 649.2 400.9 662.1 385.0 664.6 405.8 660.5 403.1 659.3 405.7 657.9 408.1 656.4 410.3 654.8 412.4 653.1 414.4 651.4 416.2 649.5 417.9 647.5 419.4 645.4 420.8 643.3 422.0 641.0 423.1 638.6 424.0 636.2 424.8 633.6 425.4 631.0 425.9 628.3 426.3 625.4 426.5 622.5 426.6 619.4 426.6 616.2 426.4 613.0 426.1 609.6 425.7 606.1 425.2 602.4 424.6 598.6 423.8 594.7 423.0 590.7 422.0Z" fill="url(#agd)"/>
<rect x="394.6" y="309.55" width="280.85" height="204.9" stroke="#231f20" fill="none" stroke-width="1.12"/>
<text transform="translate(390.6 315.4) scale(1 0.98)" font-size="14.2" text-anchor="end" fill="#231f20" stroke="#231f20" stroke-width="0.38">300</text>
<text transform="translate(390.6 339.2) scale(1 0.98)" font-size="14.2" text-anchor="end" fill="#231f20" stroke="#231f20" stroke-width="0.38">200</text>
<text transform="translate(390.6 379.7) scale(1 0.98)" font-size="14.2" text-anchor="end" fill="#231f20" stroke="#231f20" stroke-width="0.38">100</text>
<text transform="translate(390.6 518.4) scale(1 0.98)" font-size="14.2" text-anchor="end" fill="#231f20" stroke="#231f20" stroke-width="0.38">10</text>
<text transform="translate(481.8 530.4) scale(1 1.06)" font-size="12.0" fill="#231f20" stroke="#231f20" stroke-width="0.38">10<tspan font-size="7.4" dy="-4.0" stroke-width="0.15">19</tspan></text>
<text transform="translate(663.4 530.4) scale(1 1.06)" font-size="12.0" fill="#231f20" stroke="#231f20" stroke-width="0.38">10<tspan font-size="7.4" dy="-4.0" stroke-width="0.15">20</tspan></text>
<text transform="translate(534.7 550.4)" font-size="15.1" text-anchor="middle" fill="#231f20" stroke="#231f20" stroke-width="0.38">Carrier concentration, n (cm<tspan font-size="8.8" dy="-5.7" stroke-width="0.15">-3</tspan><tspan dy="5.7">)</tspan></text>
<text transform="translate(357.2 412.2) rotate(-90)" font-size="15" text-anchor="middle" fill="#231f20" stroke="#231f20" stroke-width="0.38">Seebeck coefficient, |S| (μV K<tspan font-size="8.8" dy="-5.7" stroke-width="0.15">-1</tspan><tspan dy="5.7">)</tspan></text>
<text transform="translate(344 292.5)" font-size="15.2" fill="#231f20" stroke="#231f20" stroke-width="0.38">(d)</text>
<path d="M423 387.3H457.9" stroke="#4c9bb8" stroke-width="2.5" fill="none"/>
<text transform="translate(470.2 391.7) scale(1 1.06)" font-size="14.6" fill="#4c9bb8" stroke="#4c9bb8" stroke-width="0.22799999999999998" font-weight="bold">3D</text>
<path d="M423 410H457.9" stroke="#e8a033" stroke-width="2.5" fill="none"/>
<text transform="translate(470.2 414.9) scale(1 1.06)" font-size="14.6" fill="#e8a033" stroke="#e8a033" stroke-width="0.22799999999999998" font-weight="bold">2D</text>
<path d="M423 432.7H457.9" stroke="#51ab3c" stroke-width="2.5" fill="none"/>
<text transform="translate(470.2 438.5) scale(1 1.06)" font-size="14.6" fill="#51ab3c" stroke="#51ab3c" stroke-width="0.22799999999999998" font-weight="bold">1D</text>
<circle cx="424.9" cy="467" r="4.9" fill="#3f5f8c"/>
<text transform="translate(433.8 471.3)" font-size="12.5" fill="#231f20" stroke="#231f20" stroke-width="0.38">300 K</text>
</svg>
</body>
</html>
